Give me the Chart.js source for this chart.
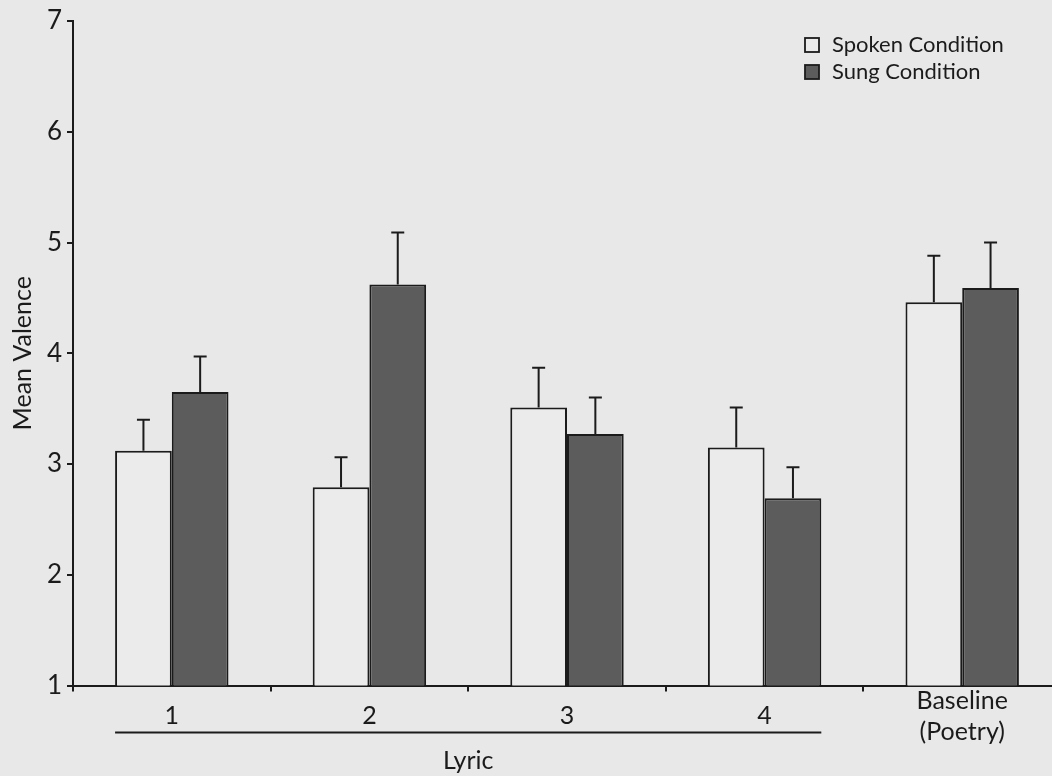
<!DOCTYPE html>
<html>
<head>
<meta charset="utf-8">
<script src="https://cdn.jsdelivr.net/npm/chart.js@4.4.1/dist/chart.umd.min.js"></script>
<style>
  html, body { margin: 0; padding: 0; overflow: hidden; background: #e8e8e8; }
  #wrap { position: relative; width: 1064px; height: 776px; }
</style>
</head>
<body>
<div id="wrap"><canvas id="c"></canvas></div>
<script>
// ---- data ----
const categories = ['1', '2', '3', '4', ['Baseline', '(Poetry)']];
const spokenValues = [3.12, 2.79, 3.51, 3.15, 4.46];
const sungValues   = [3.65, 4.62, 3.27, 2.69, 4.59];
const spokenErrors = [0.28, 0.27, 0.36, 0.36, 0.42];
const sungErrors   = [0.32, 0.47, 0.33, 0.28, 0.41];
const yTicks = [1, 2, 3, 4, 5, 6, 7];
const seriesNames = ['Spoken Condition', 'Sung Condition'];
const groupLabel = 'Lyric';
const yTitle = 'Mean Valence';

const FONT = 'Lato, "Open Sans", sans-serif';
const INK = '#1b1b1b';
const BG = '#e8e8e8';

const bgPlugin = {
  id: 'bg',
  beforeDraw(chart) {
    const ctx = chart.ctx;
    ctx.save();
    ctx.fillStyle = BG;
    ctx.fillRect(0, 0, chart.width, chart.height);
    ctx.restore();
  }
};

const errorBars = {
  id: 'errorBars',
  afterDatasetsDraw(chart) {
    const ctx = chart.ctx;
    const y = chart.scales.y;
    const errs = [spokenErrors, sungErrors];
    ctx.save();
    ctx.strokeStyle = INK;
    ctx.lineWidth = 2;
    chart.data.datasets.forEach((ds, di) => {
      const meta = chart.getDatasetMeta(di);
      meta.data.forEach((bar, i) => {
        const top = y.getPixelForValue(ds.data[i] + errs[di][i]);
        ctx.beginPath();
        ctx.moveTo(bar.x, bar.y);
        ctx.lineTo(bar.x, top);
        ctx.moveTo(bar.x - 6.5, top);
        ctx.lineTo(bar.x + 6.5, top);
        ctx.stroke();
      });
    });
    ctx.restore();
  }
};

const lyricGroup = {
  id: 'lyricGroup',
  afterDraw(chart) {
    const ctx = chart.ctx;
    const m0 = chart.getDatasetMeta(0).data[0];
    const m1 = chart.getDatasetMeta(1).data[3];
    const x0 = m0.x - m0.width / 2;
    const x1 = m1.x + m1.width / 2;
    const yLine = chart.chartArea.bottom + 47;
    ctx.save();
    ctx.strokeStyle = INK;
    ctx.lineWidth = 2;
    ctx.beginPath();
    ctx.moveTo(x0, yLine);
    ctx.lineTo(x1, yLine);
    ctx.stroke();
    ctx.fillStyle = INK;
    ctx.font = '25px ' + FONT;
    ctx.textAlign = 'center';
    ctx.textBaseline = 'middle';
    ctx.fillText(groupLabel, (x0 + x1) / 2, yLine + 28);
    ctx.restore();
  }
};

const boxLegend = {
  id: 'boxLegend',
  afterDraw(chart) {
    const ctx = chart.ctx;
    const ca = chart.chartArea;
    const left = ca.right - 256;
    const top = ca.top + 24;
    ctx.save();
    ctx.font = '22px ' + FONT;
    ctx.textBaseline = 'middle';
    ctx.textAlign = 'left';
    chart.data.datasets.forEach((ds, i) => {
      const cy = top + i * 27;
      ctx.fillStyle = ds.backgroundColor;
      ctx.fillRect(left, cy - 7, 14, 14);
      ctx.strokeStyle = INK;
      ctx.lineWidth = 1.8;
      ctx.strokeRect(left, cy - 7, 14, 14);
      ctx.fillStyle = INK;
      ctx.fillText(ds.label, left + 27, cy);
    });
    ctx.restore();
  }
};

new Chart(document.getElementById('c'), {
  type: 'bar',
  data: {
    labels: categories,
    datasets: [
      { label: seriesNames[0], data: spokenValues, backgroundColor: '#ebebeb', borderColor: INK, borderWidth: 2 },
      { label: seriesNames[1], data: sungValues, backgroundColor: '#5c5c5c', borderColor: INK, borderWidth: 2 }
    ]
  },
  options: {
    responsive: true,
    maintainAspectRatio: false,
    animation: false,
    devicePixelRatio: 1,
    layout: { padding: { top: 21, right: 3, bottom: 4, left: 0 } },
    datasets: { bar: { barPercentage: 1.0, categoryPercentage: 0.574 } },
    plugins: {
      legend: { display: false },
      tooltip: { enabled: false }
    },
    scales: {
      x: {
        offset: true,
        border: { display: true, color: INK, width: 2 },
        grid: { display: true, drawOnChartArea: false, drawTicks: true, tickLength: 6, color: INK, lineWidth: 2, offset: true },
        ticks: { color: INK, font: { family: FONT, size: 25, lineHeight: 1.25 }, padding: 9, crossAlign: 'center', maxRotation: 0, autoSkip: false }
      },
      y: {
        min: 1, max: 7,
        afterFit(scale) { scale.width = 73; },
        afterBuildTicks(scale) { scale.ticks = yTicks.map(v => ({ value: v })); },
        border: { display: true, color: INK, width: 2 },
        grid: { display: true, drawOnChartArea: false, drawTicks: true, tickLength: 6, color: INK, lineWidth: 2 },
        ticks: { color: INK, font: { family: FONT, size: 26 }, padding: 5, stepSize: 1 },
        title: { display: true, text: yTitle, color: INK, font: { family: FONT, size: 25 }, padding: { top: 8, bottom: 0 } }
      }
    }
  },
  plugins: [bgPlugin, errorBars, lyricGroup, boxLegend]
});
</script>
</body>
</html>
